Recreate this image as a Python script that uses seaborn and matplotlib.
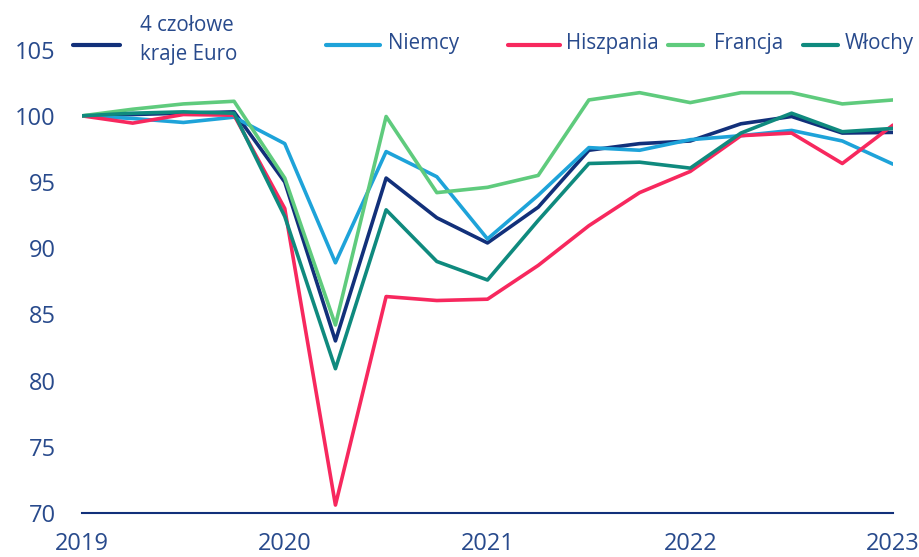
import matplotlib
matplotlib.use("Agg")
import matplotlib.pyplot as plt
import seaborn as sns
import pandas as pd
import numpy as np
from matplotlib.lines import Line2D

quarters = ["2019Q1","2019Q2","2019Q3","2019Q4","2020Q1","2020Q2","2020Q3","2020Q4",
            "2021Q1","2021Q2","2021Q3","2021Q4","2022Q1","2022Q2","2022Q3","2022Q4","2023Q1"]
euro4 = [100, 100.1, 100.2, 100.3, 95.0, 83.0, 95.3, 92.3, 90.4, 93.1, 97.4, 97.9, 98.1, 99.4, 99.95, 98.7, 98.75]
niemcy = [100, 99.8, 99.5, 99.9, 97.9, 88.9, 97.3, 95.4, 90.7, 94.0, 97.6, 97.4, 98.2, 98.5, 98.9, 98.1, 96.35]
hiszpania = [100, 99.45, 100.1, 100.05, 93.0, 70.6, 86.35, 86.05, 86.15, 88.7, 91.7, 94.2, 95.8, 98.5, 98.7, 96.4, 99.3]
francja = [100, 100.5, 100.9, 101.1, 95.3, 84.2, 99.95, 94.2, 94.6, 95.5, 101.2, 101.75, 101.0, 101.75, 101.75, 100.9, 101.2]
wlochy = [100, 100.2, 100.3, 100.2, 92.4, 80.9, 92.9, 89.0, 87.6, 92.1, 96.4, 96.5, 96.05, 98.7, 100.2, 98.8, 99.05]

series_names = ["4 czołowe\nkraje Euro", "Niemcy", "Hiszpania", "Francja", "Włochy"]
series_vals = [euro4, niemcy, hiszpania, francja, wlochy]
colors = ["#12307a", "#1ea3d9", "#f7285e", "#5fcb7d", "#0f8a7e"]
year_ticks = [2019, 2020, 2021, 2022, 2023]
y_ticks = [70, 75, 80, 85, 90, 95, 100, 105]

t = np.array([2019 + 0.25 * i for i in range(len(quarters))])
rows = []
for name, vals in zip(series_names, series_vals):
    for ti, v in zip(t, vals):
        rows.append({"t": ti, "val": v, "series": name})
df = pd.DataFrame(rows)

sns.set_theme(style="white")
plt.rcParams['font.family'] = ['Open Sans', 'DejaVu Sans']
txt_color = "#284a8c"

fig = plt.figure(figsize=(9.19, 5.57), dpi=100)
ax = fig.add_axes([82/919, 44/557, 811/919, 513/557])
sns.lineplot(data=df, x="t", y="val", hue="series", hue_order=series_names,
             palette=dict(zip(series_names, colors)), linewidth=2.6, ax=ax, legend=False)
ax.set_xlim(2019, 2023)
ax.set_ylim(70, 108.75)
ax.set_xticks(year_ticks)
ax.set_xticklabels([str(y) for y in year_ticks])
ax.set_yticks(y_ticks)
ax.set_yticklabels([str(y) for y in y_ticks])
ax.set_xlabel("")
ax.set_ylabel("")
for s in ["top", "right", "left"]:
    ax.spines[s].set_visible(False)
ax.spines["bottom"].set_color("#12307a")
ax.spines["bottom"].set_linewidth(1.5)
ax.tick_params(axis="both", length=0, labelsize=17, colors=txt_color)
ax.tick_params(axis="y", pad=19)
ax.tick_params(axis="x", pad=14)
for lbl in ax.get_xticklabels() + ax.get_yticklabels():
    lbl.set_color(txt_color)

# manual legend
legend_spec = [
    (73, 120, 140),
    (326, 380, 388),
    (508, 560, 566),
    (668, 703, 714),
    (803, 838, 845),
]
ly = 44
for (x0, x1, xt), name, c in zip(legend_spec, series_names, colors):
    fig.add_artist(Line2D([x0/919, x1/919], [1 - 45/557, 1 - 45/557], color=c,
                          linewidth=3, transform=fig.transFigure))
    fig.text(xt/919, 1 - (ly - 4 if "\n" in name else ly)/557, name, ha="left", va="center",
             fontsize=14.8, color=txt_color, linespacing=1.55)

fig.savefig("out.png", dpi=100)
